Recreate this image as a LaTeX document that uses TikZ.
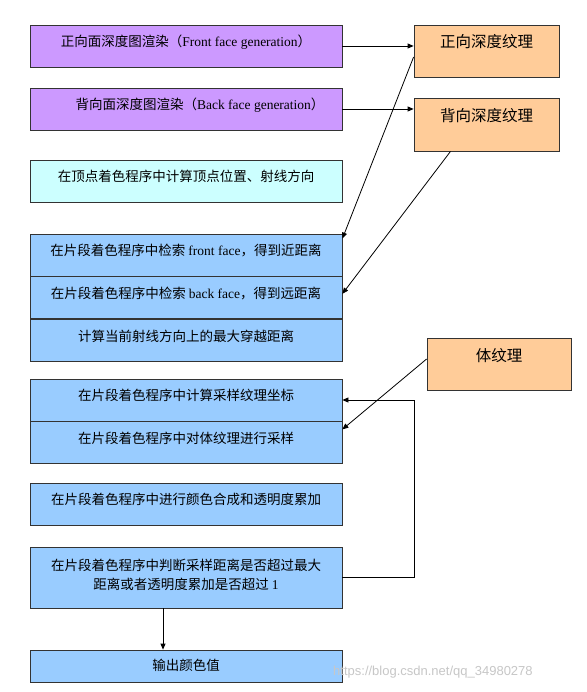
\documentclass[tikz,border=0pt]{standalone}
\usepackage{fontspec}
\setmainfont{Liberation Serif}
\newfontfamily\cjk{Noto Sans CJK SC}
\newfontfamily\wmfont{Liberation Sans}
\usepackage{xcolor}
\definecolor{facefill}{HTML}{CC99FF}
\definecolor{texfill}{HTML}{FFCC99}
\definecolor{vertfill}{HTML}{CCFFFF}
\definecolor{fragfill}{HTML}{99CCFF}
\definecolor{edgeline}{HTML}{333333}
\usetikzlibrary{arrows.meta, positioning}

\begin{document}
\begin{tikzpicture}[
  x=1pt, y=-1pt,
  every node/.style={font=\cjk},
  stagebox/.style={draw=edgeline, line width=0.8pt, minimum width=312pt,
    minimum height=42pt, inner sep=0pt, text height=10pt, text depth=9pt,
    align=center, font=\fontsize{13.5}{19}\selectfont\cjk},
  texbox/.style={draw=edgeline, fill=texfill, line width=0.8pt, minimum width=145pt,
    minimum height=52pt, inner sep=0pt, text height=12pt, text depth=18pt,
    font=\fontsize{15.5}{18}\selectfont\cjk},
  flowline/.style={line width=0.8pt, -{Triangle[length=6pt, width=5pt]}}
]
  \useasboundingbox (0,0) rectangle (586,692);
  \fill[white] (0,0) rectangle (586,692);

  % Depth map passes
  \node[stagebox, fill=facefill] (front) at (186,46)
    {正向面深度图渲染（{\rmfamily Front face generation}）};
  \node[stagebox, fill=facefill] (back) at (186,109)
    {\hspace*{28pt}背向面深度图渲染（{\rmfamily Back face generation}）};

  % Textures
  \node[texbox] (fronttex) at (486.5,51) {正向深度纹理};
  \node[texbox, minimum height=53pt] (backtex) at (486.5,124.5) {背向深度纹理};
  \node[texbox, minimum width=144pt] (voltex) at (499,364) {体纹理};

  % Vertex stage
  \node[stagebox, fill=vertfill] (vertex) at (186,181)
    {在顶点着色程序中计算顶点位置、射线方向};

  % Fragment stage
  \node[stagebox, fill=fragfill] (fnear) at (186,255)
    {在片段着色程序中检索 {\rmfamily front face}，得到近距离};
  \node[stagebox, fill=fragfill, below=0pt of fnear] (ffar)
    {在片段着色程序中检索 {\rmfamily back face}，得到远距离};
  \node[stagebox, fill=fragfill, below=0pt of ffar] (fmax)
    {计算当前射线方向上的最大穿越距离};

  \node[stagebox, fill=fragfill] (coords) at (186,400)
    {在片段着色程序中计算采样纹理坐标};
  \node[stagebox, fill=fragfill, below=0pt of coords] (sample)
    {在片段着色程序中对体纹理进行采样};
  \node[stagebox, fill=fragfill] (blend) at (186,504)
    {在片段着色程序中进行颜色合成和透明度累加};
  \node[stagebox, fill=fragfill, minimum height=61pt, text height=23pt, text depth=0pt]
    (check) at (186,577.5)
    {在片段着色程序中判断采样距离是否超过最大\\距离或者透明度累加是否超过 {\rmfamily 1}};
  \node[stagebox, fill=fragfill, minimum height=32pt, text height=11pt, text depth=2pt]
    (output) at (186,666) {输出颜色值};

  % Connectors
  \draw[flowline] (front.east) -- (front.east -| fronttex.west);
  \draw[flowline] (back.east) -- (back.east -| backtex.west);
  \draw[flowline] ([yshift=-6pt]fronttex.west) -- ([yshift=-5pt]fnear.north east);
  \draw[flowline] ([xshift=-36pt]backtex.south) -- ([yshift=4pt]ffar.east);
  \draw[flowline] ([yshift=5pt]voltex.west) -- ([yshift=-8pt]sample.north east);
  \coordinate (loop) at (414,400);
  \draw[flowline] (check.east) -| (loop) -- (coords.east);
  \draw[flowline] ([xshift=-23pt]check.south) -- ([xshift=-23pt]output.north);

  % Watermark
  \node[font=\wmfont\fontsize{13}{13}\selectfont, text=black!22, anchor=west, inner sep=0pt]
    (mark) at (333,672) {https://blog.csdn.net/qq\_34980278};
\end{tikzpicture}
\end{document}
